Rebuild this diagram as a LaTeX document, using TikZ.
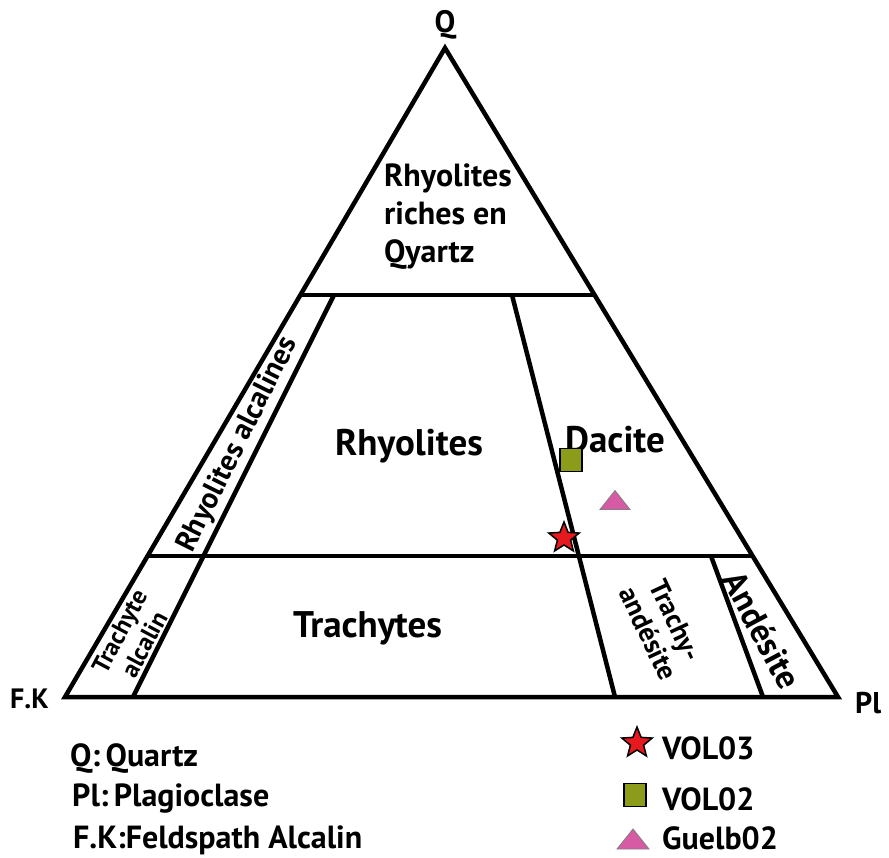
\documentclass[tikz,border=0pt]{standalone}
\usepackage{fontspec}
\setmainfont{PT Sans}
\usetikzlibrary{shapes.geometric}
\definecolor{olivemk}{RGB}{140,155,25}
\definecolor{redmk}{RGB}{230,25,30}
\definecolor{pinkmk}{RGB}{215,90,165}
\tikzset{
  bound/.style={line width=4.5pt, line join=miter},
  txt/.style={inner sep=0pt, font=\bfseries\fontsize{28}{30}\selectfont},
  big/.style={inner sep=0pt, font=\bfseries\fontsize{37}{40}\selectfont},
  rot/.style={inner sep=0pt, align=center},
  leg/.style={inner sep=0pt, anchor=base west, font=\bfseries\fontsize{32}{34}\selectfont},
  starmk/.style={star, star points=5, star point ratio=2.3, minimum size=32pt, inner sep=0pt, fill=redmk, draw=black, line width=1.5pt},
  sqmk/.style={rectangle, minimum width=22pt, minimum height=23pt, inner sep=0pt, fill=olivemk, draw=black, line width=1.5pt},
  trimk/.style={fill=pinkmk, draw=gray, line width=0.8pt, line join=miter}
}
\begin{document}
\begin{tikzpicture}[x=1pt,y=-1pt]
\useasboundingbox (0,0) rectangle (889,858);
% vertices
\coordinate (Q) at (445,48);
\coordinate (FK) at (65,697);
\coordinate (PL) at (838,697);
% line end points
\coordinate (h1l) at (300.4,295);
\coordinate (h1r) at (594.6,295);
\coordinate (h2l) at (147.6,556);
\coordinate (h2r) at (752.6,556);
\coordinate (dt) at (512,295);
\coordinate (db) at (615,697);
\coordinate (at) at (334,295);
\coordinate (ab) at (133,697);
\coordinate (nt) at (711,556);
\coordinate (nb) at (763,697);
% diagram
\draw[bound] (Q) -- (FK) -- (PL) -- cycle;
\draw[bound] (h1l) -- (h1r);
\draw[bound] (h2l) -- (h2r);
\draw[bound] (dt) -- (db);
\draw[bound] (at) -- (ab);
\draw[bound] (nt) -- (nb);
% vertex labels
\node[txt, anchor=base, font=\bfseries\fontsize{31}{33}\selectfont] (lQ) at (445,33) {Q};
\node[leg, font=\bfseries\fontsize{28}{30}\selectfont] (lFK) at (10,708) {F.K};
\node[leg, font=\bfseries\fontsize{30}{32}\selectfont] (lPL) at (855,713) {Pl};
% field labels
\node[txt, align=left, anchor=west, font=\bfseries\fontsize{32}{38}\selectfont] (rq) at (384,217) {Rhyolites\\riches en\\Qyartz};
\node[big, anchor=base west] (rh) at (335,456) {Rhyolites};
\node[big, anchor=base west] (da) at (565,453) {Dacite};
\node[big, anchor=base west] (tr) at (293,637) {Trachytes};
\node[rot, rotate=63.5, font=\bfseries\fontsize{29.5}{31}\selectfont] (ra) at (238,445) {Rhyolites alcalines};
\node[rot, rotate=62, font=\bfseries\fontsize{25}{28}\selectfont] (ta) at (132,638) {Trachyte\\alcalin};
\node[rot, rotate=-65, font=\bfseries\fontsize{27.5}{30}\selectfont] (tan) at (662,627) {Trachy-\\andésite};
\node[big, rotate=-62, font=\bfseries\fontsize{34}{36}\selectfont] (an) at (762,630) {Andésite};
% data points
\node[sqmk] (vol02) at (571,460) {};
\node[starmk] (vol03) at (564,538) {};
\coordinate (g02) at (615,500);
\path[trimk] (g02) ++(-15,9.5) -- ++(30,0) -- ++(-15,-19) -- cycle;
% legend symbols
\node[starmk] (lsv3) at (637,743) {};
\node[leg] (ltv3) at (662,759) {VOL03};
\node[sqmk] (lsv2) at (635,795) {};
\node[leg] (ltv2) at (662,810) {VOL02};
\coordinate (lsg) at (633,839);
\path[trimk] (lsg) ++(-16,10) -- ++(32,0) -- ++(-16,-20) -- cycle;
\node[leg] (ltg) at (662,849) {Guelb02};
% legend abbreviations
\node[leg] (lq) at (70,766) {Q:\,Quartz};
\node[leg] (lp) at (72,806) {Pl:\,Plagioclase};
\node[leg] (lf) at (73,848) {F.K:Feldspath Alcalin};
\end{tikzpicture}
\end{document}
